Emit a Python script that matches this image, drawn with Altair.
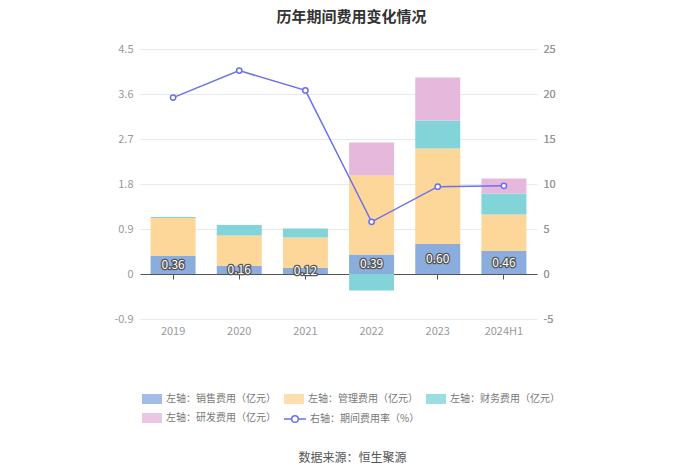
import altair as alt
import pandas as pd

years = ["2019", "2020", "2021", "2022", "2023", "2024H1"]
sales = [0.36, 0.16, 0.12, 0.39, 0.60, 0.46]
mgmt = [0.76, 0.61, 0.61, 1.58, 1.91, 0.73]
finance = [0.02, 0.21, 0.18, -0.33, 0.56, 0.42]
rnd = [0.00, 0.00, 0.00, 0.66, 0.86, 0.30]
rate = [19.6, 22.6, 20.4, 5.8, 9.7, 9.8]

series_names = ["左轴：销售费用（亿元）", "左轴：管理费用（亿元）", "左轴：财务费用（亿元）", "左轴：研发费用（亿元）"]
series_colors = ["#8badde", "#fdd79a", "#82d4d8", "#e6b9dc"]
line_name = "右轴：期间费用率（%）"
line_color = "#6b70ee"

FONT = "Noto Sans CJK SC"

rows = []
for i, y in enumerate(years):
    for k, vals in enumerate([sales, mgmt, finance, rnd]):
        rows.append({"year": y, "series": series_names[k], "value": vals[i], "order": k})
bars_df = pd.DataFrame(rows)
sales_df = pd.DataFrame({"year": years, "sales": sales})
line_df = pd.DataFrame({"year": years, "rate": rate, "name": [line_name] * len(years)})

xscale = alt.Scale(paddingInner=0.32, paddingOuter=0.16)
yscale = alt.Scale(domain=[-0.9, 4.5], nice=False, zero=False)
left_axis = alt.Axis(title=None, values=[-0.9, 0, 0.9, 1.8, 2.7, 3.6, 4.5],
                     labelExpr="''+datum.value", labelColor="#999999", labelFontSize=11,
                     labelFont=FONT, labelPadding=7, domain=False, ticks=False,
                     gridColor="#e6e9f0", gridWidth=1)

x_labels = alt.X("year:N", sort=years, scale=xscale,
                 axis=alt.Axis(title="数据来源：恒生聚源", titleX=212, titleY=138, titleAlign="center",
                               titleBaseline="middle", titleFontSize=12, titleFontWeight="normal",
                               titleColor="#555555", titleFont=FONT,
                               labelAngle=0, labelColor="#999999", labelFontSize=11, labelFont=FONT,
                               labelPadding=6, domain=False, ticks=False, grid=False, orient="bottom"))
x_none = alt.X("year:N", sort=years, scale=xscale, axis=None)

bars = alt.Chart(bars_df).mark_bar().encode(
    x=x_labels,
    y=alt.Y("value:Q", stack="zero", scale=yscale, axis=left_axis),
    color=alt.Color("series:N", sort=series_names,
                    scale=alt.Scale(domain=series_names, range=series_colors),
                    legend=alt.Legend(title=None, orient="none", legendX=2, legendY=340, columns=3,
                                      direction="horizontal", gridAlign="each",
                                      symbolType="M-1,-0.5H1V0.5H-1Z", symbolSize=400,
                                      symbolStrokeWidth=0, symbolOpacity=0.8,
                                      labelFont=FONT, labelFontSize=10, labelColor="#777777",
                                      labelLimit=200, columnPadding=8, rowPadding=4,
                                      labelOffset=4)),
    order=alt.Order("order:Q"),
)

zero_axis = alt.Chart(sales_df).mark_rule(opacity=0).encode(
    x=alt.X("year:N", sort=years, scale=xscale,
            axis=alt.Axis(title=None, labels=False, domain=True, ticks=True, tickSize=5,
                          domainColor="#555555", tickColor="#555555", grid=False,
                          offset=-45, orient="bottom")),
    y=alt.Y(datum=0, scale=yscale, axis=left_axis),
)

label_base = alt.Chart(sales_df).transform_calculate(
    mid="datum.sales / 2", lab="format(datum.sales, '.2f')"
).encode(
    x=x_none,
    y=alt.Y("mid:Q", scale=yscale, axis=left_axis),
    text=alt.Text("lab:N"),
)
labels_stroke = label_base.mark_text(font=FONT, fontSize=12, fill="white", stroke="#555555",
                                     strokeWidth=2.5, strokeJoin="round")
labels_fill = label_base.mark_text(font=FONT, fontSize=12, fill="white")

line_base = alt.Chart(line_df).encode(
    x=x_none,
    y=alt.Y("rate:Q", scale=alt.Scale(domain=[-5, 25], nice=False, zero=False),
            axis=alt.Axis(title=None, orient="right", values=[-5, 0, 5, 10, 15, 20, 25],
                          labelExpr="''+datum.value", labelColor="#999999", labelFontSize=11,
                          labelFont=FONT, labelPadding=6, domain=False, ticks=False, grid=False)),
)
line = line_base.mark_line(strokeWidth=1.5).encode(
    stroke=alt.Stroke("name:N", scale=alt.Scale(domain=[line_name], range=[line_color]),
                      legend=alt.Legend(title=None, orient="none", legendX=143, legendY=358,
                                        symbolType="M-1,0H-0.3A0.3,0.3 0 1,1 0.3,0A0.3,0.3 0 1,1 -0.3,0M0.3,0H1",
                                        symbolSize=484, symbolStrokeWidth=1.5,
                                        symbolFillColor="white",
                                        labelFont=FONT, labelFontSize=10, labelColor="#777777",
                                        labelLimit=200, labelOffset=3))
)
points = line_base.mark_point(filled=True, fill="white", stroke=line_color, strokeWidth=1.5,
                              size=28, opacity=1)

left = alt.layer(bars, zero_axis, labels_stroke, labels_fill).resolve_axis(x="independent")
chart = alt.layer(left, line, points).resolve_scale(y="independent").properties(
    width=397, height=270,
    background="white",
    title=alt.TitleParams("历年期间费用变化情况", fontSize=15, fontWeight="bold", color="#333333",
                          font=FONT, offset=18, dx=13),
    padding={"left": 132, "top": 41, "right": 155, "bottom": 147},
    autosize=alt.AutoSizeParams(type="none"),
).configure_view(strokeWidth=0)

chart.save("out.html", embed_options={"renderer": "svg", "actions": False})
